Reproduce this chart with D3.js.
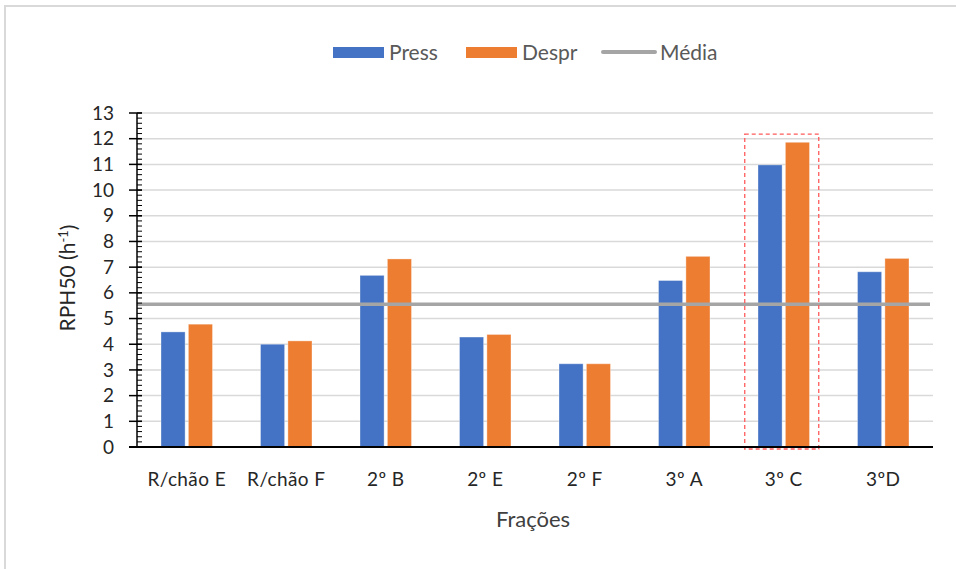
<!DOCTYPE html>
<html>
<head>
<meta charset="utf-8">
<script src="https://cdn.jsdelivr.net/npm/d3@7"></script>
<style>
  html, body { margin: 0; padding: 0; background: #fff; }
  svg { display: block; font-family: Lato, "Open Sans", sans-serif; }
</style>
</head>
<body>
<svg id="chart" width="956" height="569"></svg>
<script>
// Air permeability results per dwelling fraction
const categories = ["R/chão E", "R/chão F", "2º B", "2º E", "2º F", "3º A", "3º C", "3ºD"];
const pressValues = [4.48, 4.0, 6.68, 4.28, 3.24, 6.48, 10.98, 6.82];
const desprValues = [4.78, 4.13, 7.32, 4.38, 3.24, 7.42, 11.86, 7.34];
const mediaValue = 5.56;
const seriesNames = ["Press", "Despr", "Média"];
const yTicks = [0, 1, 2, 3, 4, 5, 6, 7, 8, 9, 10, 11, 12, 13];
const highlighted = "3º C";
const highlightTop = 12.18;

const colors = { Press: "#4472c4", Despr: "#ed7d31", "Média": "#a5a5a5" };

const svg = d3.select("#chart");
const margin = { left: 137, right: 23, top: 113, bottom: 122 };
const W = 956, H = 569;

// outer chart frame
svg.append("rect")
  .attr("x", 5).attr("y", 6)
  .attr("width", W + 10).attr("height", H + 10)
  .attr("fill", "none").attr("stroke", "#d9d9d9").attr("stroke-width", 2);

const x = d3.scaleBand()
  .domain(categories)
  .range([margin.left, W - margin.right]);

const inner = d3.scaleBand()
  .domain(["Press", "Despr"])
  .range([24, x.bandwidth() - 24])
  .paddingInner(0.12);

const y = d3.scaleLinear()
  .domain([0, 13])
  .range([H - margin.bottom, margin.top]);

// horizontal gridlines
svg.append("g")
  .selectAll("line")
  .data(yTicks.filter(d => d > 0))
  .join("line")
  .attr("x1", margin.left).attr("x2", W - margin.right)
  .attr("y1", d => y(d)).attr("y2", d => y(d))
  .attr("stroke", "#d9d9d9").attr("stroke-width", 1.5);

// bars
const groups = svg.append("g")
  .selectAll("g")
  .data(categories.map((c, i) => ({ cat: c, Press: pressValues[i], Despr: desprValues[i] })))
  .join("g")
  .attr("transform", d => `translate(${x(d.cat)},0)`);

groups.selectAll("rect")
  .data(d => ["Press", "Despr"].map(k => ({ key: k, value: d[k] })))
  .join("rect")
  .attr("x", d => inner(d.key))
  .attr("width", inner.bandwidth())
  .attr("y", d => y(d.value))
  .attr("height", d => y(0) - y(d.value))
  .attr("fill", d => colors[d.key])
  .attr("stroke", "rgba(255,255,255,0.35)")
  .attr("stroke-width", 1);

// average line
svg.append("line")
  .attr("x1", margin.left).attr("x2", W - margin.right - 3)
  .attr("y1", y(mediaValue)).attr("y2", y(mediaValue))
  .attr("stroke", colors["Média"]).attr("stroke-width", 3.5);

// highlight box around the selected fraction
const hx = x(highlighted) + x.bandwidth() / 2;
svg.append("rect")
  .attr("x", hx - 39).attr("y", y(highlightTop))
  .attr("width", 74).attr("height", y(0) - y(highlightTop) + 2)
  .attr("fill", "none")
  .attr("stroke", "#ff5a5a").attr("stroke-width", 1.3)
  .attr("stroke-dasharray", "4,3");

// y axis with minor ticks
const yAxisG = svg.append("g");
yAxisG.append("line")
  .attr("x1", margin.left).attr("x2", margin.left)
  .attr("y1", y(0)).attr("y2", y(13))
  .attr("stroke", "#000").attr("stroke-width", 1.5);
const minor = d3.range(0, 13.001, 0.2).map(v => Math.round(v * 10) / 10);
yAxisG.selectAll("line.minor")
  .data(minor)
  .join("line").attr("class", "minor")
  .attr("x1", margin.left).attr("x2", margin.left + 5)
  .attr("y1", d => y(d)).attr("y2", d => y(d))
  .attr("stroke", "#000").attr("stroke-width", 1);
yAxisG.selectAll("line.major")
  .data(yTicks)
  .join("line").attr("class", "major")
  .attr("x1", margin.left - 8).attr("x2", margin.left + 5)
  .attr("y1", d => y(d)).attr("y2", d => y(d))
  .attr("stroke", "#000").attr("stroke-width", 1.5);
yAxisG.selectAll("text")
  .data(yTicks)
  .join("text")
  .attr("x", 114).attr("y", d => y(d))
  .attr("dy", "0.35em")
  .attr("text-anchor", "end")
  .attr("font-size", 19).attr("fill", "#262626")
  .text(d => d);

// x axis
svg.append("line")
  .attr("x1", margin.left - 8).attr("x2", W - margin.right)
  .attr("y1", y(0)).attr("y2", y(0))
  .attr("stroke", "#000").attr("stroke-width", 2);

svg.append("g")
  .selectAll("text")
  .data(categories)
  .join("text")
  .attr("x", d => x(d) + x.bandwidth() / 2)
  .attr("y", 479)
  .attr("dy", "0.35em")
  .attr("text-anchor", "middle")
  .attr("font-size", 19).attr("letter-spacing", 0.4).attr("fill", "#262626")
  .text(d => d);

// axis titles
svg.append("text")
  .attr("x", (margin.left + W - margin.right) / 2 - 2)
  .attr("y", 519).attr("dy", "0.35em")
  .attr("text-anchor", "middle")
  .attr("font-size", 22).attr("fill", "#404040")
  .text("Frações");

const yt = svg.append("text")
  .attr("transform", `translate(68,${(y(0) + y(13)) / 2 - 2}) rotate(-90)`)
  .attr("text-anchor", "middle").attr("dy", "0.35em")
  .attr("font-size", 21).attr("fill", "#262626");
yt.append("tspan").text("RPH50 (h");
yt.append("tspan").attr("font-size", 13).attr("dy", "-0.6em").text("-1");
yt.append("tspan").attr("dy", "0.4em").text(")");

// legend
const legend = svg.append("g");
const legendPos = [333, 466, 603];
seriesNames.forEach((name, i) => {
  const g = legend.append("g").attr("transform", `translate(${legendPos[i]},53)`);
  if (name === "Média") {
    g.append("line").attr("x1", 0).attr("x2", 52).attr("y1", -1).attr("y2", -1)
      .attr("stroke", colors[name]).attr("stroke-width", 4).attr("stroke-linecap", "round");
  } else {
    g.append("rect").attr("x", 0).attr("y", -6).attr("width", 51).attr("height", 11)
      .attr("fill", colors[name]);
  }
  g.append("text").attr("x", name === "Média" ? 57 : 56).attr("y", 0).attr("dy", "0.35em")
    .attr("font-size", 21).attr("fill", "#595959").text(name);
});
</script>
</body>
</html>
